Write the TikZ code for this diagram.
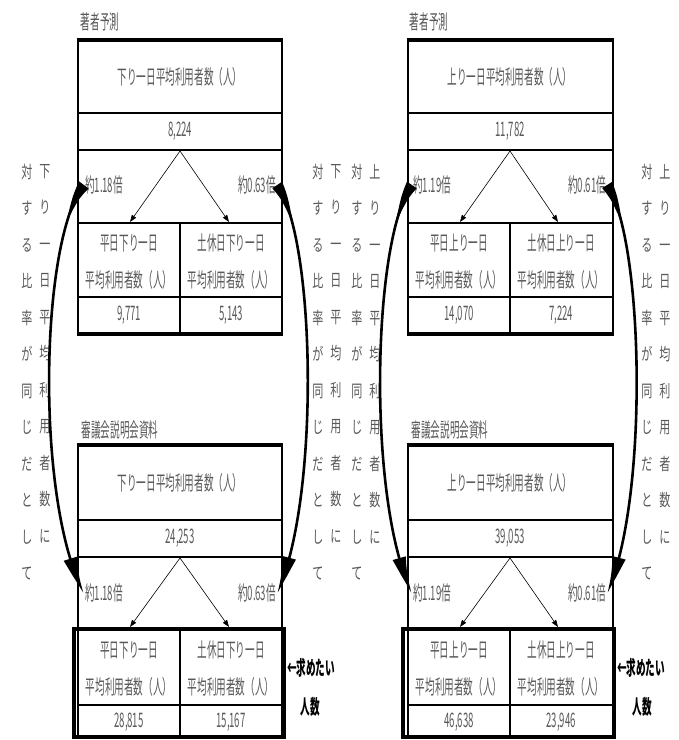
\documentclass[tikz,border=0pt]{standalone}
\usepackage{fontspec}
\setmainfont[FakeStretch=0.48]{Noto Sans CJK JP}
\newfontfamily\tatefont[FakeStretch=0.65]{Noto Sans CJK JP}
\usetikzlibrary{arrows.meta, bending}

\definecolor{txt}{HTML}{595959}

\begin{document}
\begin{tikzpicture}[
  x=1pt, y=-1pt,
  label/.style={font=\fontsize{20}{24}\selectfont, text=txt, inner sep=1pt},
  goal/.style={font=\fontsize{20}{24}\selectfont\bfseries, inner sep=1pt},
  tate/.style={font=\tatefont\fontsize{17}{36.5}\selectfont, text=txt, align=center, anchor=north, inner sep=0pt},
  rule/.style={line width=2.6pt},
  heavy/.style={line width=4.5pt},
  split/.style={-{Triangle[length=7pt,width=5pt]}, line width=0.6pt},
  swoop/.style={line width=2.6pt, {Triangle[reversed,bend,length=34pt,width=11pt]}-{Latex[bend,length=34pt,width=14pt]}},
]
  \useasboundingbox (0,0) rectangle (679,740);

  % ===== Left: 下り =====
  % 著者予測
  \node[label] (t1) at (100,22) {著者予測};
  \draw[rule] (78,40) rectangle (282,334);
  \draw[rule] (78,113) -- (282,113);
  \draw[rule] (78,150) -- (282,150);
  \draw[rule] (78,223) -- (282,223);
  \draw[rule] (78,297) -- (282,297);
  \draw[rule] (180,223) -- (180,334);
  \draw[heavy] (76.7,40) -- (283.3,40);
  \draw[heavy] (76.7,334) -- (283.3,334);
  \node[label] (h1) at (180,77) {下り一日平均利用者数（人）};
  \node[label] (n1) at (180,131) {8,224};
  \coordinate (a1) at (180,151);
  \coordinate (a1l) at (130,222);
  \coordinate (a1r) at (229,222);
  \draw[split] (a1) -- (a1l);
  \draw[split] (a1) -- (a1r);
  \node[label] (q1) at (104,185) {約1.18倍};
  \node[label] (p1) at (257,185) {約0.63倍};
  \node[label] (w1a) at (129,243) {平日下り一日};
  \node[label] (w1b) at (129,280) {平均利用者数（人）};
  \node[label] (w1c) at (129,315) {9,771};
  \node[label] (e1a) at (231,243) {土休日下り一日};
  \node[label] (e1b) at (231,280) {平均利用者数（人）};
  \node[label] (e1c) at (231,315) {5,143};

  % 審議会説明会資料
  \node[label] (t2) at (120,430) {審議会説明会資料};
  \draw[rule] (78,445) -- (78,738);
  \draw[rule] (282,445) -- (282,738);
  \draw[rule] (78,520) -- (282,520);
  \draw[rule] (78,557) -- (282,557);
  \draw[rule] (78,705) -- (282,705);
  \draw[rule] (180,629) -- (180,738);
  \draw[heavy] (76.7,445) -- (283.3,445);
  \draw[heavy] (74,629) rectangle (284,737);
  \node[label] (h2) at (180,483) {下り一日平均利用者数（人）};
  \node[label] (n2) at (180,538) {24,253};
  \coordinate (a2) at (180,558);
  \coordinate (a2l) at (130,627);
  \coordinate (a2r) at (229,627);
  \draw[split] (a2) -- (a2l);
  \draw[split] (a2) -- (a2r);
  \node[label] (q2) at (104,593) {約1.18倍};
  \node[label] (p2) at (257,593) {約0.63倍};
  \node[label] (w2a) at (129,650) {平日下り一日};
  \node[label] (w2b) at (129,687) {平均利用者数（人）};
  \node[label] (w2c) at (129,722) {28,815};
  \node[label] (e2a) at (231,650) {土休日下り一日};
  \node[label] (e2b) at (231,687) {平均利用者数（人）};
  \node[label] (e2c) at (231,722) {15,167};
  \node[goal] (g1) at (311,668) {←求めたい};
  \node[goal] (g2) at (310,707) {人数};

  % vertical notes
  \node[tate] (c1) at (27,164) {対\\す\\る\\比\\率\\が\\同\\じ\\だ\\と\\し\\て};
  \node[tate] (c2) at (45,164) {下\\り\\一\\日\\平\\均\\利\\用\\者\\数\\に};
  \node[tate] (c3) at (318,164) {対\\す\\る\\比\\率\\が\\同\\じ\\だ\\と\\し\\て};
  \node[tate] (c4) at (336,164) {下\\り\\一\\日\\平\\均\\利\\用\\者\\数\\に};

  \draw[swoop] (q1.west) .. controls (40,240) and (35,500) .. (q2.west);
  \draw[swoop] (p1.east) .. controls (316,240) and (320,500) .. (p2.east);

  % ===== Right: 上り =====
  % 著者予測
  \node[label] (t3) at (429,22) {著者予測};
  \draw[rule] (408,40) rectangle (613,334);
  \draw[rule] (408,113) -- (613,113);
  \draw[rule] (408,150) -- (613,150);
  \draw[rule] (408,223) -- (613,223);
  \draw[rule] (408,297) -- (613,297);
  \draw[rule] (510,223) -- (510,334);
  \draw[heavy] (406.7,40) -- (614.3,40);
  \draw[heavy] (406.7,334) -- (614.3,334);
  \node[label] (h3) at (510,77) {上り一日平均利用者数（人）};
  \node[label] (n3) at (510,131) {11,782};
  \coordinate (a3) at (510,151);
  \coordinate (a3l) at (460,222);
  \coordinate (a3r) at (558,222);
  \draw[split] (a3) -- (a3l);
  \draw[split] (a3) -- (a3r);
  \node[label] (q3) at (432,185) {約1.19倍};
  \node[label] (p3) at (587,185) {約0.61倍};
  \node[label] (w3a) at (459,243) {平日上り一日};
  \node[label] (w3b) at (459,280) {平均利用者数（人）};
  \node[label] (w3c) at (459,315) {14,070};
  \node[label] (e3a) at (561,243) {土休日上り一日};
  \node[label] (e3b) at (561,280) {平均利用者数（人）};
  \node[label] (e3c) at (561,315) {7,224};

  % 審議会説明会資料
  \node[label] (t4) at (450,430) {審議会説明会資料};
  \draw[rule] (408,445) -- (408,738);
  \draw[rule] (613,445) -- (613,738);
  \draw[rule] (408,520) -- (613,520);
  \draw[rule] (408,557) -- (613,557);
  \draw[rule] (408,705) -- (613,705);
  \draw[rule] (510,629) -- (510,738);
  \draw[heavy] (406.7,445) -- (614.3,445);
  \draw[heavy] (403,629) rectangle (614,737);
  \node[label] (h4) at (510,483) {上り一日平均利用者数（人）};
  \node[label] (n4) at (510,538) {39,053};
  \coordinate (a4) at (510,558);
  \coordinate (a4l) at (460,627);
  \coordinate (a4r) at (558,627);
  \draw[split] (a4) -- (a4l);
  \draw[split] (a4) -- (a4r);
  \node[label] (q4) at (432,593) {約1.19倍};
  \node[label] (p4) at (587,593) {約0.61倍};
  \node[label] (w4a) at (459,650) {平日上り一日};
  \node[label] (w4b) at (459,687) {平均利用者数（人）};
  \node[label] (w4c) at (459,722) {46,638};
  \node[label] (e4a) at (561,650) {土休日上り一日};
  \node[label] (e4b) at (561,687) {平均利用者数（人）};
  \node[label] (e4c) at (561,722) {23,946};
  \node[goal] (g3) at (641,668) {←求めたい};
  \node[goal] (g4) at (642,707) {人数};

  % vertical notes
  \node[tate] (c5) at (357,164) {対\\す\\る\\比\\率\\が\\同\\じ\\だ\\と\\し\\て};
  \node[tate] (c6) at (375,164) {上\\り\\一\\日\\平\\均\\利\\用\\者\\数\\に};
  \node[tate] (c7) at (647,164) {対\\す\\る\\比\\率\\が\\同\\じ\\だ\\と\\し\\て};
  \node[tate] (c8) at (665,164) {上\\り\\一\\日\\平\\均\\利\\用\\者\\数\\に};

  \draw[swoop] (q3.west) .. controls (372,240) and (367,500) .. (q4.west);
  \draw[swoop] (p3.east) .. controls (644,240) and (649,500) .. (p4.east);
\end{tikzpicture}
\end{document}
